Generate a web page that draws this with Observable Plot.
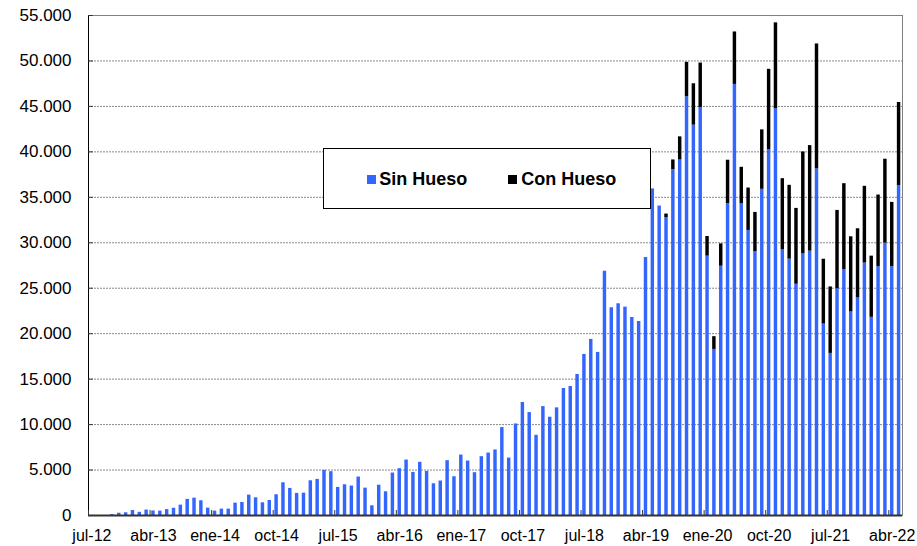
<!DOCTYPE html>
<html>
<head>
<meta charset="utf-8">
<script src="https://cdn.jsdelivr.net/npm/d3@7"></script>
<script src="https://cdn.jsdelivr.net/npm/@observablehq/plot@0.6"></script>
<style>
  html, body { margin: 0; padding: 0; background: #fff; }
  #wrap { position: relative; width: 917px; height: 546px; font-family: "Liberation Sans", Arial, sans-serif; }
  #legend { position: absolute; left: 323px; top: 148px; width: 328px; height: 61px; background: #fff; border: 1px solid #000; box-sizing: border-box; }
  .li { position: absolute; top: 20.5px; font-weight: bold; font-size: 18px; line-height: 18px; white-space: nowrap; color: #000; }
  .sw { position: absolute; top: 25.7px; width: 9px; height: 9px; }
</style>
</head>
<body>
<div id="wrap"><div id="chart"></div>
<div id="legend">
  <div class="sw" style="left:42.7px;background:#3366ff"></div>
  <div class="li" style="left:55.3px">Sin Hueso</div>
  <div class="sw" style="left:184.3px;background:#000"></div>
  <div class="li" style="left:197.3px">Con Hueso</div>
</div>
</div>
<script>
// Categories: monthly from jul-12 to may-22
const monthNames = ["ene","feb","mar","abr","may","jun","jul","ago","sep","oct","nov","dic"];
const nMonths = 119;
const months = d3.range(nMonths).map(i => monthNames[(6 + i) % 12] + "-" + (12 + Math.floor((6 + i) / 12)));

const tickLabels = ["jul-12","abr-13","ene-14","oct-14","jul-15","abr-16","ene-17","oct-17","jul-18","abr-19","ene-20","oct-20","jul-21","abr-22"];
const yTicks = [0,5000,10000,15000,20000,25000,30000,35000,40000,45000,50000,55000];

const sinHueso = [
  0,0,0,100,250,300,550,350,600,500,
  480,650,800,1140,1770,1910,1620,810,480,700,
  700,1360,1430,2240,1950,1400,1650,2280,3600,2980,
  2430,2460,3820,3970,4960,4820,3090,3380,3240,4230,
  3010,1070,3330,2610,4670,5150,6100,4740,5850,4850,
  3490,3790,6030,4260,6650,5990,4710,6470,6870,7210,
  9670,6320,10070,12430,11320,8820,11980,10810,11840,13970,
  14190,15510,17720,19370,17940,26870,22850,23290,22920,21780,
  21340,28380,35920,34040,32750,38050,39110,46060,42940,44850,
  28530,18270,27420,34300,47420,34300,31360,29000,35880,40220,
  44740,29220,28200,25440,28780,29080,38120,21060,17830,24940,
  27020,22390,23930,27770,21800,27370,29960,27370,36280
];
const conHueso = [
  0,0,0,0,0,0,0,0,0,0,
  0,0,0,0,0,0,0,0,0,0,
  0,0,0,0,0,0,0,0,0,0,
  0,0,0,0,0,0,0,0,0,0,
  0,0,0,0,0,0,0,0,0,0,
  0,0,0,0,0,0,0,0,0,0,
  0,0,0,0,0,0,0,0,0,0,
  0,0,0,0,0,0,0,0,0,0,
  0,0,0,0,410,1060,2540,3790,4550,4920,
  2160,1400,2460,4780,5770,4000,4660,4340,6540,8860,
  9450,7830,8120,8340,11210,11610,13750,7130,7310,8620,
  9480,8270,7610,8440,6730,7880,9230,7070,9150
];

const rows = [];
months.forEach((m, i) => {
  rows.push({i, month: m, series: "Sin Hueso", y1: 0, y2: sinHueso[i]});
  if (conHueso[i] > 0) rows.push({i, month: m, series: "Con Hueso", y1: sinHueso[i], y2: sinHueso[i] + conHueso[i]});
});
const tickIdx = tickLabels.map(t => months.indexOf(t));

const fmt = d3.formatLocale({decimal: ",", thousands: ".", grouping: [3], currency: ["", ""]}).format(",");

const chart = Plot.plot({
  width: 917,
  height: 546,
  marginLeft: 88,
  marginRight: 15,
  marginTop: 15,
  marginBottom: 31,
  style: {fontFamily: "'Liberation Sans', Arial, sans-serif", background: "#fff"},
  x: {type: "linear", domain: [0, nMonths], axis: null},
  y: {domain: [0, 55000], axis: null},
  color: {domain: ["Sin Hueso", "Con Hueso"], range: ["#3366ff", "#000000"]},
  marks: [
    Plot.ruleY(yTicks.slice(1, -1), {stroke: "#8a8a8a", strokeDasharray: "2,1"}),
    Plot.frame({stroke: "#808080"}),
    Plot.rect(rows, {x1: d => d.i, x2: d => d.i + 1, y1: "y1", y2: "y2", fill: "series", insetLeft: 1.7, insetRight: 1.7}),
    Plot.ruleX([0], {stroke: "#000"}),
    Plot.ruleY([0], {stroke: "#333", strokeWidth: 2}),
    Plot.ruleX(tickIdx, {y1: 0, y2: 550, stroke: "#333"}),
    Plot.ruleY(yTicks, {x1: 0, x2: 0.7, stroke: "#333"}),
    Plot.text(yTicks, {x: 0, y: d => d, text: d => fmt(d), textAnchor: "end", dx: -17, fontSize: 17, fill: "#000"}),
    Plot.text(tickIdx, {x: d => d + 0.5, y: 0, text: d => months[d], dy: 20.5, fontSize: 16, fill: "#000"})
  ]
});
document.getElementById("chart").appendChild(chart);
</script>
</body>
</html>
